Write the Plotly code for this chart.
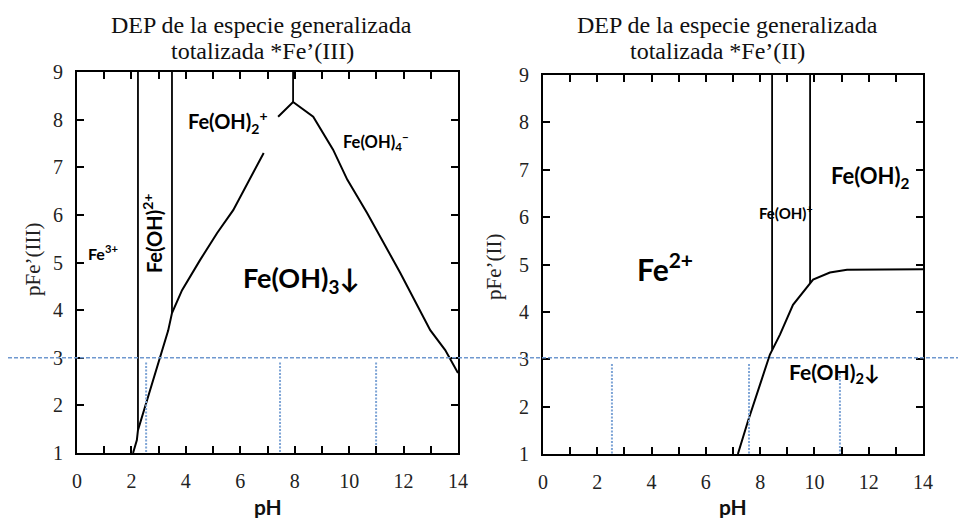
import plotly.graph_objects as go

# ---------------- data ----------------
# Fe(III) diagram: solubility curve (pH, pFe'(III)); None marks a gap in the drawn line
ph_III = [2.06, 2.20, 2.24, 2.57, 3.05, 3.35, 3.49, 3.86, 4.52, 5.15, 5.74, 6.30, 6.86, None,
          7.39, 7.94, 8.68, 9.41, 9.93, 10.66, 11.88, 12.98, 13.53, 14.0]
pfe_III = [1.00, 1.27, 1.48, 2.11, 3.00, 3.57, 3.94, 4.42, 5.05, 5.62, 6.10, 6.70, 7.30, None,
           8.06, 8.37, 8.06, 7.37, 6.74, 6.04, 4.78, 3.58, 3.16, 2.68]
# predominance boundaries (vertical) : pH and lower end of the line
bound_ph_III = [2.24, 3.49, 7.94]
bound_low_III = [1.48, 3.94, 8.37]

# Fe(II) diagram
ph_II = [7.18, 7.55, 8.36, 8.73, 9.21, 9.58, 9.95, 10.57, 11.20, 14.0]
pfe_II = [1.00, 1.69, 3.10, 3.52, 4.15, 4.42, 4.68, 4.83, 4.89, 4.90]
bound_ph_II = [8.44, 9.84]
bound_low_II = [3.20, 4.60]

# reference level and reading lines (pH read at the level, upper end of each reading line)
p_level = 3
read_ph_III = [2.54, 7.46, 10.99]
read_top_III = [2.9, 2.9, 2.9]
read_ph_II = [2.54, 7.59, 10.94]
read_top_II = [2.9, 2.9, 2.72]

x_ticks = list(range(0, 15))
x_ticktext = [str(v) if v % 2 == 0 else "" for v in x_ticks]
y_ticks = list(range(1, 10))

title_line1 = "DEP de la especie generalizada"
title_line2 = ["totalizada *Fe’(III)", "totalizada *Fe’(II)"]
ytitles = ["pFe’(III)", "pFe’(II)"]

# ---------------- figure ----------------
fig = go.Figure()
BLACK = "#000000"
BLUE_H = "#6f98cf"
BLUE_V = "#7fa5d6"
SERIF = "Liberation Serif, Times New Roman, serif"
SANS = "Lato, Open Sans, sans-serif"


def vlines(xs, lows, top):
    xx, yy = [], []
    for x, lo in zip(xs, lows):
        xx += [x, x, None]
        yy += [lo, top, None]
    return xx, yy


def dashed(xs, tops, lo):
    xx, yy = [], []
    for x, hi in zip(xs, tops):
        xx += [x, x, None]
        yy += [hi, lo, None]
    return xx, yy


# left panel
fig.add_trace(go.Scatter(x=ph_III, y=pfe_III, mode="lines", line=dict(color=BLACK, width=2),
                         connectgaps=False, xaxis="x", yaxis="y", showlegend=False, hoverinfo="skip"))
bx, by = vlines(bound_ph_III, bound_low_III, 9)
fig.add_trace(go.Scatter(x=bx, y=by, mode="lines", line=dict(color=BLACK, width=1.8),
                         xaxis="x", yaxis="y", showlegend=False, hoverinfo="skip"))
dx, dy = dashed(read_ph_III, read_top_III, 1)
fig.add_trace(go.Scatter(x=dx, y=dy, mode="lines", line=dict(color=BLUE_V, width=2, dash="2px,1.5px"),
                         xaxis="x", yaxis="y", showlegend=False, hoverinfo="skip"))

# right panel
fig.add_trace(go.Scatter(x=ph_II, y=pfe_II, mode="lines", line=dict(color=BLACK, width=2),
                         xaxis="x2", yaxis="y2", showlegend=False, hoverinfo="skip"))
bx, by = vlines(bound_ph_II, bound_low_II, 9)
fig.add_trace(go.Scatter(x=bx, y=by, mode="lines", line=dict(color=BLACK, width=1.8),
                         xaxis="x2", yaxis="y2", showlegend=False, hoverinfo="skip"))
dx, dy = dashed(read_ph_II, read_top_II, 1)
fig.add_trace(go.Scatter(x=dx, y=dy, mode="lines", line=dict(color=BLUE_V, width=2, dash="2px,1.5px"),
                         xaxis="x2", yaxis="y2", showlegend=False, hoverinfo="skip"))

# empty traces on overlay axes (used only to draw tick marks on the opposite sides)
fig.add_trace(go.Scatter(x=[], y=[], xaxis="x3", yaxis="y3", showlegend=False, hoverinfo="skip"))
fig.add_trace(go.Scatter(x=[], y=[], xaxis="x4", yaxis="y4", showlegend=False, hoverinfo="skip"))

tick_style = dict(ticks="inside", ticklen=7, tickwidth=2, tickcolor=BLACK,
                  showline=True, linecolor=BLACK, linewidth=2, mirror="allticks",
                  showgrid=False, zeroline=False, automargin=False, layer="above traces")
axis_common = dict(range=[0, 14], tickmode="array", tickvals=x_ticks, ticktext=x_ticktext,
                   ticklabelstandoff=9, tickfont=dict(family=SERIF, size=20, color="#222"), **tick_style)
yaxis_common = dict(range=[1, 9], tickmode="array", tickvals=y_ticks,
                    ticklabelstandoff=8, tickfont=dict(family=SERIF, size=20, color="#222"), **tick_style)
x_overlay = dict(range=[0, 14], tickmode="array", tickvals=x_ticks, showticklabels=False, side="top", **tick_style)
y_overlay = dict(range=[1, 9], tickmode="array", tickvals=y_ticks, showticklabels=False, side="right", **tick_style)

W, H = 958, 518
fig.update_layout(
    width=W, height=H, autosize=False,
    margin=dict(l=0, r=0, t=0, b=0, pad=0, autoexpand=False),
    paper_bgcolor="white", plot_bgcolor="white",
    xaxis=dict(domain=[77 / W, 458 / W], anchor="y", **axis_common),
    yaxis=dict(domain=[1 - 453 / H, 1 - 72 / H], anchor="x", **yaxis_common),
    xaxis2=dict(domain=[543 / W, 923 / W], anchor="y2", **axis_common),
    yaxis2=dict(domain=[1 - 454 / H, 1 - 75 / H], anchor="x2", **yaxis_common),
    xaxis3=dict(overlaying="x", anchor="y3", **x_overlay),
    yaxis3=dict(overlaying="y", anchor="x3", **y_overlay),
    xaxis4=dict(overlaying="x2", anchor="y4", **x_overlay),
    yaxis4=dict(overlaying="y2", anchor="x4", **y_overlay),
)

# horizontal reference dashed line across whole figure
fig.add_shape(type="line", xref="paper", yref="y", x0=8 / W, x1=1, y0=p_level, y1=p_level,
              line=dict(color=BLUE_H, width=1.4, dash="4px,2px"), layer="above")

ann = []
# titles (two lines each)
for cx1, cx2, t2 in zip([261 / W, 727 / W], [262 / W, 717 / W], title_line2):
    ann.append(dict(x=cx1, y=1 - 25 / H, xref="paper", yref="paper", text=title_line1, showarrow=False,
                    font=dict(family=SERIF, size=24, color="#111"), xanchor="center", yanchor="middle"))
    ann.append(dict(x=cx2, y=1 - 51 / H, xref="paper", yref="paper", text=t2, showarrow=False,
                    font=dict(family=SERIF, size=24, color="#111"), xanchor="center", yanchor="middle"))
# y titles
for cx, cy, t in zip([33 / W, 494 / W], [1 - 260 / H, 1 - 267 / H], ytitles):
    ann.append(dict(x=cx, y=cy, xref="paper", yref="paper", text=t, textangle=-90, showarrow=False,
                    font=dict(family=SERIF, size=21, color="#222"), xanchor="center", yanchor="middle"))
# x titles
for cx in [268 / W, 733 / W]:
    ann.append(dict(x=cx, y=1 - 506 / H, xref="paper", yref="paper", text="<b>pH</b>", showarrow=False,
                    font=dict(family=SANS, size=21, color="#111"), xanchor="center", yanchor="middle"))

# species labels, left panel
ann += [
    dict(x=0.96, y=5.22, xref="x", yref="y", text="<b>Fe<sup>3+</sup></b>", showarrow=False,
         font=dict(family=SANS, size=16, color=BLACK)),
    dict(x=2.76, y=5.62, xref="x", yref="y", text="<b>Fe(OH)<sup>2+</sup></b>", textangle=-90, showarrow=False,
         font=dict(family=SANS, size=20, color=BLACK)),
    dict(x=5.55, y=7.95, xref="x", yref="y", text="<b>Fe(OH)<sub>2</sub><sup>+</sup></b>", showarrow=False,
         font=dict(family=SANS, size=20, color=BLACK)),
    dict(x=11.0, y=7.55, xref="x", yref="y", text="<b>Fe(OH)<sub>4</sub><sup>−</sup></b>", showarrow=False,
         font=dict(family=SANS, size=16.5, color=BLACK)),
    dict(x=8.25, y=4.65, xref="x", yref="y", text="<b>Fe(OH)<sub>3</sub>↓</b>", showarrow=False,
         font=dict(family=SANS, size=27, color=BLACK)),
]
# species labels, right panel
ann += [
    dict(x=4.5, y=4.95, xref="x2", yref="y2", text="<b>Fe<sup>2+</sup></b>", showarrow=False,
         font=dict(family=SANS, size=30, color=BLACK)),
    dict(x=8.95, y=6.1, xref="x2", yref="y2", text="<b>Fe(OH)<sup>+</sup></b>", showarrow=False,
         font=dict(family=SANS, size=15, color=BLACK)),
    dict(x=12.05, y=6.85, xref="x2", yref="y2", text="<b>Fe(OH)<sub>2</sub></b>", showarrow=False,
         font=dict(family=SANS, size=22, color=BLACK)),
    dict(x=10.75, y=2.7, xref="x2", yref="y2", text="<b>Fe(OH)<sub>2</sub>↓</b>", showarrow=False,
         font=dict(family=SANS, size=21, color=BLACK)),
]
fig.update_layout(annotations=ann)

fig.write_html("out.html", config={"displayModeBar": False},
               post_script="document.body.style.margin='0';")
